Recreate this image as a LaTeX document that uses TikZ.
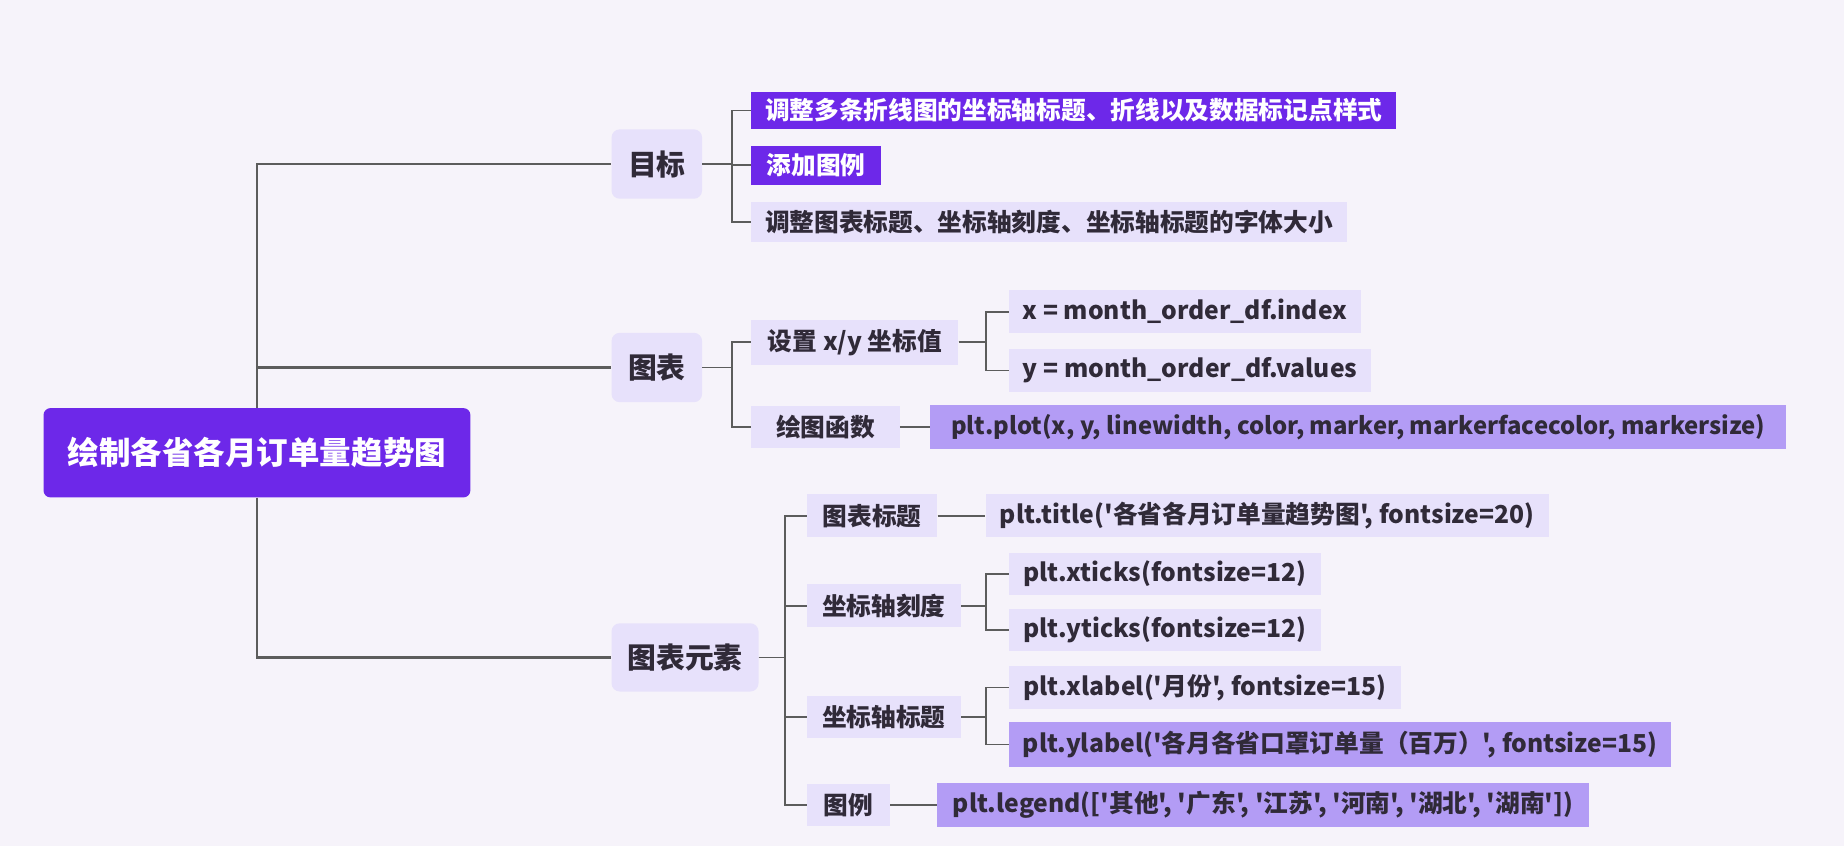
\documentclass[tikz,border=0pt]{standalone}
\usepackage{fontspec}
\newfontfamily\cjk{Noto Sans CJK SC}
\definecolor{bg}{HTML}{F6F3FA}
\definecolor{lite}{HTML}{E7E1FB}
\definecolor{dark}{HTML}{6D28E9}
\definecolor{mid}{HTML}{B39CF5}
\definecolor{txt}{HTML}{302A38}
\definecolor{conncol}{HTML}{5C5C5C}
\begin{document}
\begin{tikzpicture}[x=1pt,y=-1pt,
  base/.style={font=\cjk\bfseries\fontsize{21}{25}\selectfont, inner sep=0pt, text=txt, anchor=center},
  lite/.style={base, fill=lite},
  darkbox/.style={base, fill=dark, text=white},
  midbox/.style={base, fill=mid},
  lvlone/.style={base, fill=lite, rounded corners=7pt, font=\cjk\bfseries\fontsize{24.5}{28}\selectfont},
  rootbox/.style={base, fill=dark, text=white, rounded corners=6pt, font=\cjk\bfseries\fontsize{26.8}{30}\selectfont},
  conn/.style={draw=conncol, line width=1.5pt},
  trunk/.style={draw=conncol, line width=2.2pt}]
\fill[bg] (0,0) rectangle (1568,719);
\useasboundingbox (0,0) rectangle (1568,719);

% root
\node[rootbox, minimum width=363, minimum height=76] (root) at (218.5,385) {绘制各省各月订单量趋势图};

% level 1
\node[lvlone, minimum width=77, minimum height=59] (goal) at (558.5,139.5) {目标};
\node[lvlone, minimum width=77, minimum height=59] (chart) at (558.5,312.5) {图表};
\node[lvlone, minimum width=125, minimum height=58] (elem) at (582.5,559) {图表元素};

% goal children
\node[darkbox, minimum width=548, minimum height=32] (g1) at (913,94) {调整多条折线图的坐标轴标题、折线以及数据标记点样式};
\node[darkbox, minimum width=110, minimum height=33] (g2) at (694,140.5) {添加图例};
\node[lite, minimum width=506, minimum height=34] (g3) at (892,189) {调整图表标题、坐标轴刻度、坐标轴标题的字体大小};

% chart children
\node[lite, minimum width=176, minimum height=38] (c1) at (727,291) {设置 x/y 坐标值};
\node[lite, minimum width=126, minimum height=36] (c2) at (702,363) {绘图函数};
\node[lite, minimum width=299, minimum height=36] (c11) at (1007.5,265) {x = month\_order\_df.index};
\node[lite, minimum width=308, minimum height=36] (c12) at (1012,315) {y = month\_order\_df.values};
\node[midbox, minimum width=728, minimum height=37, font=\cjk\bfseries\fontsize{20.3}{25}\selectfont] (c21) at (1155,363) {plt.plot(x, y, linewidth, color, marker, markerfacecolor, markersize)};

% element children
\node[lite, minimum width=111, minimum height=37] (e1) at (741.5,438.5) {图表标题};
\node[lite, minimum width=479, minimum height=37] (e11) at (1077.5,438.5) {plt.title('各省各月订单量趋势图', fontsize=20)};
\node[lite, minimum width=131, minimum height=36] (e2) at (751.5,515) {坐标轴刻度};
\node[lite, minimum width=265, minimum height=36] (e21) at (990.5,488) {plt.xticks(fontsize=12)};
\node[lite, minimum width=265, minimum height=36] (e22) at (990.5,535.5) {plt.yticks(fontsize=12)};
\node[lite, minimum width=131, minimum height=36] (e3) at (751.5,609.5) {坐标轴标题};
\node[lite, minimum width=333, minimum height=37] (e31) at (1024.5,584.5) {plt.xlabel('月份', fontsize=15)};
\node[midbox, minimum width=563, minimum height=38] (e32) at (1139.5,633) {plt.ylabel('各月各省口罩订单量（百万）', fontsize=15)};
\node[lite, minimum width=71, minimum height=36] (e4) at (721.5,684.5) {图例};
\node[midbox, minimum width=554, minimum height=37] (e41) at (1074,684.5) {plt.legend(['其他', '广东', '江苏', '河南', '湖北', '湖南'])};

% trunk
\draw[trunk] (root.north) |- (goal.west);
\draw[trunk] (root.north) |- (chart.west);
\draw[trunk] (root.south) |- (elem.west);

% goal connectors
\draw[conn] (goal.east) -- ++(25,0) |- (g1.west);
\draw[conn] (goal.east) -- ++(25,0) |- (g2.west);
\draw[conn] (goal.east) -- ++(25,0) |- (g3.west);

% chart connectors
\draw[conn] (chart.east) -- ++(25,0) |- (c1.west);
\draw[conn] (chart.east) -- ++(25,0) |- (c2.west);
\draw[conn] (c1.east) -- ++(23,0) |- (c11.west);
\draw[conn] (c1.east) -- ++(23,0) |- (c12.west);
\draw[conn] (c2.east) -- (c21.west);

% element connectors
\draw[conn] (elem.east) -- ++(22,0) |- (e1.west);
\draw[conn] (elem.east) -- ++(22,0) |- (e2.west);
\draw[conn] (elem.east) -- ++(22,0) |- (e3.west);
\draw[conn] (elem.east) -- ++(22,0) |- (e4.west);
\draw[conn] (e1.east) -- (e11.west);
\draw[conn] (e2.east) -- ++(21,0) |- (e21.west);
\draw[conn] (e2.east) -- ++(21,0) |- (e22.west);
\draw[conn] (e3.east) -- ++(21,0) |- (e31.west);
\draw[conn] (e3.east) -- ++(21,0) |- (e32.west);
\draw[conn] (e4.east) -- (e41.west);
\end{tikzpicture}
\end{document}
